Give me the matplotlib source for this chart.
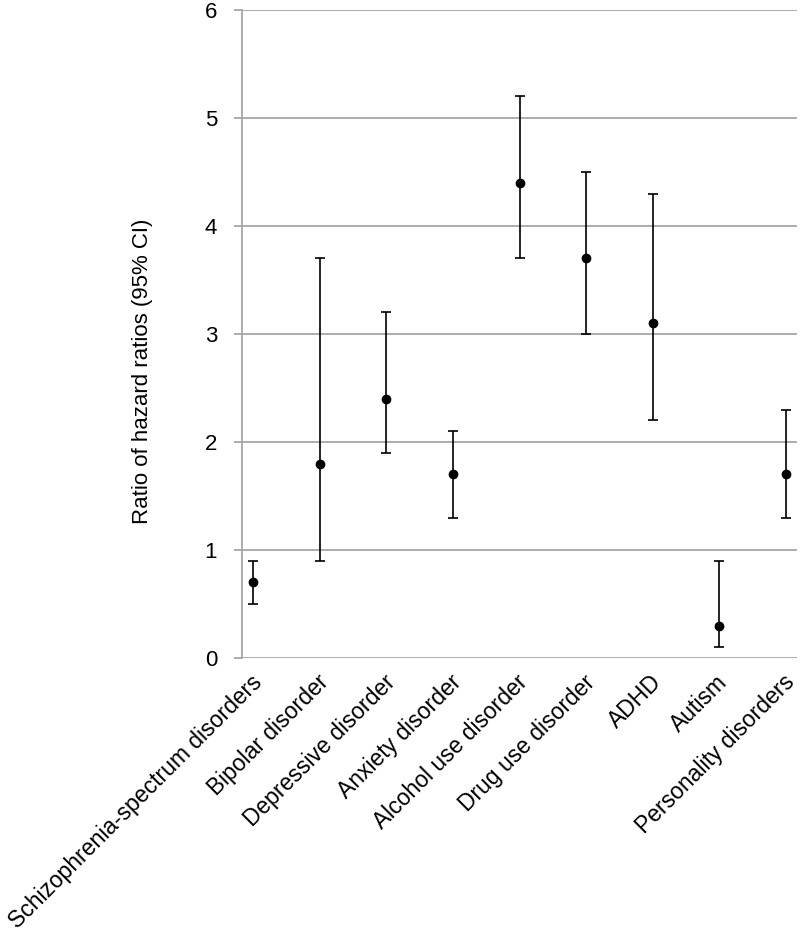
import numpy as np
import matplotlib.pyplot as plt
from matplotlib.transforms import ScaledTranslation

plt.rcParams['font.family'] = ['Liberation Sans', 'DejaVu Sans']

# Dati
categorie = ['Schizophrenia-spectrum disorders', 'Bipolar disorder', 'Depressive disorder',
             'Anxiety disorder', 'Alcohol use disorder', 'Drug use disorder', 'ADHD',
             'Autism', 'Personality disorders']
stima = [0.7, 1.8, 2.4, 1.7, 4.4, 3.7, 3.1, 0.3, 1.7]
ci_basso = [0.5, 0.9, 1.9, 1.3, 3.7, 3.0, 2.2, 0.1, 1.3]
ci_alto = [0.9, 3.7, 3.2, 2.1, 5.2, 4.5, 4.3, 0.9, 2.3]

x = np.arange(len(categorie))
stima = np.array(stima)
err = [stima - np.array(ci_basso), np.array(ci_alto) - stima]

fig = plt.figure(figsize=(8, 9.34), dpi=100)
ax = fig.add_axes([0.3025, 0.2955, 0.694, 0.6938])

ax.errorbar(x, stima, yerr=err, fmt='o', color='black', markersize=6,
            elinewidth=1.2, capsize=3.5, capthick=1.2, zorder=3)

ax.set_ylim(0, 6)
ax.set_xlim(-0.17, 8.17)
ax.set_yticks(range(0, 7))
ax.grid(axis='y', color='#a6a6a6', linewidth=1.3)
ax.set_axisbelow(True)

for s in ['top', 'right', 'bottom']:
    ax.spines[s].set_visible(False)
ax.spines['left'].set_color('#a6a6a6')
ax.spines['left'].set_linewidth(1.3)

ax.tick_params(axis='y', length=6, color='#a6a6a6', width=1.3, labelsize=16, pad=12)
ax.tick_params(axis='x', length=0, pad=15)
ax.set_xticks(x)
ax.set_xticklabels(categorie, rotation=45, ha='right', va='center',
                   rotation_mode='anchor', fontsize=16.5)
# piccolo spostamento a destra delle etichette
offset = ScaledTranslation(0.05, 0, fig.dpi_scale_trans)
for lab in ax.get_xticklabels():
    lab.set_transform(lab.get_transform() + offset)

ax.set_ylabel('Ratio of hazard ratios (95% CI)', fontsize=16)
ax.yaxis.set_label_coords(-0.160, 0.443)

fig.savefig('out.png', dpi=100)
